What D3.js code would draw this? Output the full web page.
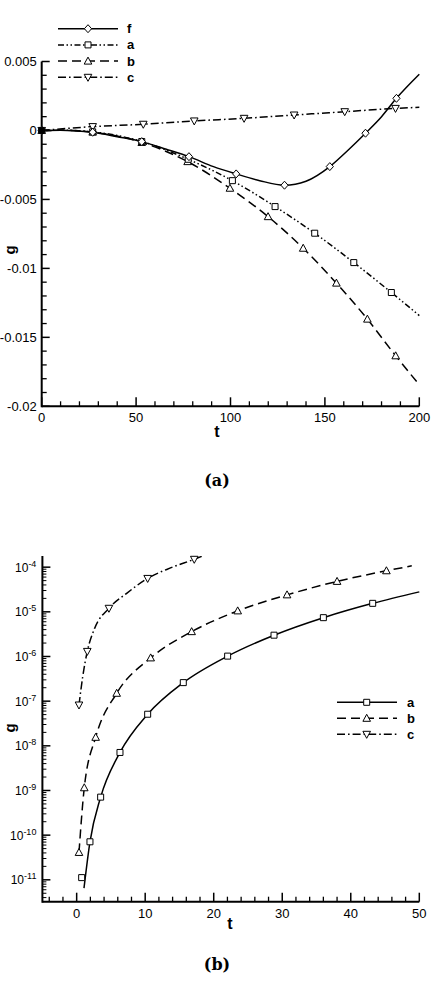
<!DOCTYPE html>
<html>
<head>
  <title>g vs t</title>
  <script src="https://cdn.jsdelivr.net/npm/d3@7/dist/d3.min.js"></script>
  <style>
    body { margin: 0; background: #fff; }
    text { font-family: 'Liberation Sans', Arial, sans-serif; }
  </style>
</head>
<body>
  <svg width="434" height="984" id="mainsvg"></svg>
  <script>
      // ---- data ----
      const fLine = [[0,0],[10,0.00002],[20,-0.00005],[27,-0.00013],[40,-0.00045],[53,-0.00081],[66,-0.00136],[78,-0.0019],[91,-0.00262],[103,-0.00315],[115.5,-0.00364],[128.6,-0.00397],[140,-0.00368],[152.6,-0.00262],[161.4,-0.00154],[171.5,-0.0002],[180,0.001],[187.9,0.00233],[200,0.00407]];
      const fMarks = [[0,0],[27,-0.00013],[53,-0.00081],[78,-0.0019],[103,-0.00315],[128.6,-0.00397],[152.6,-0.00262],[171.5,-0.0002],[187.9,0.00233]];
      const aLine = [[0,0],[13,0.00001],[27,-0.0001],[53,-0.0008],[77.6,-0.00209],[101,-0.00364],[123.6,-0.00552],[144.6,-0.00745],[165.3,-0.00958],[185.2,-0.01175],[200,-0.01342]];
      const aMarks = [[0,0],[27,-0.0001],[53,-0.0008],[77.6,-0.00209],[101,-0.00364],[123.6,-0.00552],[144.6,-0.00745],[165.3,-0.00958],[185.2,-0.01175]];
      const bLine = [[0,0],[13,0.00001],[27,-0.00012],[53,-0.00087],[77.3,-0.00226],[99.7,-0.00419],[119.9,-0.00625],[138.5,-0.00854],[156.1,-0.01107],[172.5,-0.01368],[187.5,-0.01634],[200,-0.01844]];
      const bMarks = [[0,0],[27,-0.00012],[53,-0.00087],[77.3,-0.00226],[99.7,-0.00419],[119.9,-0.00625],[138.5,-0.00854],[156.1,-0.01107],[172.5,-0.01368],[187.5,-0.01634]];
      const cLine = [[0,0],[27,0.00028],[53.8,0.00045],[80.8,0.00069],[107.2,0.00088],[133.7,0.00112],[160.5,0.00136],[187.4,0.0016],[200,0.00168]];
      const cMarks = [[0,0],[27,0.00028],[53.8,0.00045],[80.8,0.00069],[107.2,0.00088],[133.7,0.00112],[160.5,0.00136],[187.4,0.0016]];
      const topYTicks = [0.005, 0, -0.005, -0.01, -0.015, -0.02];
      const topYLabels = ['0.005', '0', '-0.005', '-0.01', '-0.015', '-0.02'];
      const topXTicks = [0, 50, 100, 150, 200];

      // ---- data ----
      const aLineB = [[1.07,6.5e-12],[1.94,7.1e-11],[3.5,7.1e-10],[6.32,7.1e-9],[10.36,5.1e-8],[15.56,2.6e-7],[22.03,1.02e-6],[28.8,3.0e-6],[36,7.4e-6],[43.2,1.55e-5],[50,2.8e-5]];
      const aMarksB = [[0.73,1.12e-11],[1.94,7.1e-11],[3.5,7.1e-10],[6.32,7.1e-9],[10.36,5.1e-8],[15.56,2.6e-7],[22.03,1.02e-6],[28.8,3.0e-6],[36,7.4e-6],[43.2,1.55e-5]];
      const bLineB = [[0.34,4.1e-11],[1.11,1.15e-9],[2.77,1.55e-8],[5.84,1.5e-7],[10.8,9.3e-7],[16.78,3.6e-6],[23.5,1.05e-5],[30.7,2.4e-5],[38,4.8e-5],[45.2,8.3e-5],[48.9,1.07e-4]];
      const bMarksB = [[0.34,4.1e-11],[1.11,1.15e-9],[2.77,1.55e-8],[5.84,1.5e-7],[10.8,9.3e-7],[16.78,3.6e-6],[23.5,1.05e-5],[30.7,2.4e-5],[38,4.8e-5],[45.2,8.3e-5]];
      const cLineB = [[0.34,8.2e-8],[0.88,3.5e-7],[1.55,1.3e-6],[2.6,4.2e-6],[4.71,1.2e-5],[7.3,2.6e-5],[10.36,5.6e-5],[13.6,9.5e-5],[17.16,1.5e-4],[18.4,1.78e-4]];
      const cMarksB = [[0.34,8.2e-8],[1.55,1.3e-6],[4.71,1.2e-5],[10.36,5.6e-5],[17.16,1.5e-4]];
      const botYExp = [-4, -5, -6, -7, -8, -9, -10, -11];
      const botXTicks = [0, 10, 20, 30, 40, 50];

      const svg = d3.select('svg');
      const dashes = {solid: null, dash: '9,5', dashdot: '8,3,1.6,3', dashdotdot: '6,2.5,1.5,2.5,1.5,2.5'};

      const symbol = function(g, type, x, y){
          let p;
          if(type === 'diamond') p = `M${x},${y-4}L${x+3.6},${y}L${x},${y+4}L${x-3.6},${y}Z`;
          else if(type === 'square') p = `M${x-3},${y-3}h6v6h-6Z`;
          else if(type === 'up') p = `M${x},${y-4}L${x+3.8},${y+3}L${x-3.8},${y+3}Z`;
          else p = `M${x},${y+4}L${x+3.8},${y-3}L${x-3.8},${y-3}Z`;
          g.append('path').attr('d', p).attr('fill', 'white').attr('stroke', 'black').attr('stroke-width', 1);
      };

      const drawAxes = function(xScale, yScale, xMajor, xMinor, yAxisTop){
          const g = svg.append('g');
          const x0 = xScale.range()[0], x1 = xScale.range()[1];
          const yb = yScale.range()[0];
          g.append('line').attr('x1', x0).attr('x2', x1).attr('y1', yb).attr('y2', yb)
          .attr('stroke', 'black').attr('stroke-width', 2);
          g.append('line').attr('x1', x0).attr('x2', x0).attr('y1', yb + 1).attr('y2', yAxisTop)
          .attr('stroke', 'black').attr('stroke-width', 2);
          g.selectAll('.xmin').data(xMinor).join('line')
          .attr('x1', d => xScale(d)).attr('x2', d => xScale(d)).attr('y1', yb).attr('y2', yb - 5)
          .attr('stroke', 'black').attr('stroke-width', 1.3);
          g.selectAll('.xmaj').data(xMajor).join('line')
          .attr('x1', d => xScale(d)).attr('x2', d => xScale(d)).attr('y1', yb).attr('y2', yb - 9)
          .attr('stroke', 'black').attr('stroke-width', 1.5);
          g.selectAll('.xlab').data(xMajor).join('text')
          .attr('x', d => xScale(d)).attr('y', yb + 16).attr('text-anchor', 'middle')
          .attr('font-size', 13).text(d => d);
          return g;
      };

      const clipFor = function(id, xScale, yScale){
          svg.append('clipPath').attr('id', id).append('rect')
          .attr('x', xScale.range()[0]).attr('y', yScale.range()[1])
          .attr('width', xScale.range()[1] - xScale.range()[0] + 2)
          .attr('height', yScale.range()[0] - yScale.range()[1]);
      };

      // ================= panel (a) =================
      const xA = d3.scaleLinear().domain([0, 200]).range([41.7, 419.3]);
      const yA = d3.scaleLinear().domain([-0.02, 0.005]).range([406.3, 61.5]);
      const gA = drawAxes(xA, yA, topXTicks, d3.range(10, 200, 10).filter(d => d % 50 !== 0), 61.5);
      const yMinorA = d3.range(-20, 6, 1).map(d => d / 1000).filter(d => Math.round(d * 1000) % 5 !== 0);
      gA.selectAll('.ymin').data(yMinorA).join('line')
      .attr('x1', xA(0)).attr('x2', xA(0) + 5).attr('y1', d => yA(d)).attr('y2', d => yA(d))
      .attr('stroke', 'black').attr('stroke-width', 1.3);
      gA.selectAll('.ymaj').data(topYTicks).join('line')
      .attr('x1', xA(0)).attr('x2', xA(0) + 8).attr('y1', d => yA(d)).attr('y2', d => yA(d))
      .attr('stroke', 'black').attr('stroke-width', 1.5);
      gA.selectAll('.ylab').data(topYTicks).join('text')
      .attr('x', xA(0) - 5).attr('y', d => yA(d) + 4.5).attr('text-anchor', 'end')
      .attr('font-size', 13).text((d, i) => topYLabels[i]);
      gA.append('text').attr('x', 217).attr('y', 437).attr('text-anchor', 'middle')
      .attr('font-size', 16).attr('font-weight', 'bold').text('t');
      gA.append('text').attr('transform', 'translate(15, 250) rotate(-90)').attr('text-anchor', 'middle')
      .attr('font-size', 15).attr('font-weight', 'bold').text('g');

      clipFor('clipA', xA, yA);
      const lineA = d3.line().x(d => xA(d[0])).y(d => yA(d[1])).curve(d3.curveMonotoneX);
      const seriesA = [
          {name: 'f', line: fLine, marks: fMarks, dash: dashes.solid, sym: 'diamond'},
          {name: 'a', line: aLine, marks: aMarks, dash: dashes.dashdotdot, sym: 'square'},
          {name: 'b', line: bLine, marks: bMarks, dash: dashes.dash, sym: 'up'},
          {name: 'c', line: cLine, marks: cMarks, dash: dashes.dashdot, sym: 'down'}
      ];
      const plotA = svg.append('g').attr('clip-path', 'url(#clipA)');
      seriesA.slice().reverse().forEach(s => {
          plotA.append('path').datum(s.line).attr('d', lineA).attr('fill', 'none')
          .attr('stroke', 'black').attr('stroke-width', 1.5).attr('stroke-dasharray', s.dash);
      });
      seriesA.slice().reverse().forEach(s => {
          s.marks.forEach(m => symbol(svg, s.sym, xA(m[0]), yA(m[1])));
      });
      // origin cluster looks filled
      svg.append('circle').attr('cx', xA(0)).attr('cy', yA(0)).attr('r', 3.5).attr('fill', 'black');

      // legend (a)
      const legA = svg.append('g');
      seriesA.forEach((s, i) => {
          const y = 28.7 + i * 16.2;
          legA.append('line').attr('x1', 58).attr('x2', 118).attr('y1', y).attr('y2', y)
          .attr('stroke', 'black').attr('stroke-width', 1.5).attr('stroke-dasharray', s.dash);
          symbol(legA, s.sym, 88, y);
          legA.append('text').attr('x', 127).attr('y', y + 4.5).attr('font-size', 13)
          .attr('font-weight', 'bold').text(s.name);
      });

      svg.append('text').attr('x', 217).attr('y', 486).attr('text-anchor', 'middle')
      .style('font-family', "'DejaVu Serif', serif")
      .attr('font-size', 16).attr('font-weight', 'bold').text('(a)');

      // ================= panel (b) =================
      const xB = d3.scaleLinear().domain([-5, 50]).range([42.4, 419.3]);
      const yB = d3.scaleLog().domain([Math.pow(10, -11.49), Math.pow(10, -3.75)]).range([901.7, 556]);
      const gB = drawAxes(xB, yB, botXTicks, d3.range(-4, 50, 2).filter(d => d % 10 !== 0), 556);
      const yMinorB = [];
      for(let e = -12; e <= -4; e++){
          for(let k = 2; k <= 9; k++){
              const v = k * Math.pow(10, e);
              if(v > yB.domain()[0] && v < yB.domain()[1]) yMinorB.push(v);
          }
      }
      gB.selectAll('.ymin').data(yMinorB).join('line')
      .attr('x1', xB(-5)).attr('x2', xB(-5) + 4).attr('y1', d => yB(d)).attr('y2', d => yB(d))
      .attr('stroke', 'black').attr('stroke-width', 1);
      gB.selectAll('.ymaj').data(botYExp).join('line')
      .attr('x1', xB(-5)).attr('x2', xB(-5) + 8).attr('y1', d => yB(Math.pow(10, d))).attr('y2', d => yB(Math.pow(10, d)))
      .attr('stroke', 'black').attr('stroke-width', 1.5);
      const labB = gB.selectAll('.ylab').data(botYExp).join('text')
      .attr('x', xB(-5) - 6).attr('y', d => yB(Math.pow(10, d)) + 4.5).attr('text-anchor', 'end')
      .attr('font-size', 12);
      labB.append('tspan').text('10');
      labB.append('tspan').attr('dy', -5).attr('font-size', 9).text(d => d);
      gB.append('text').attr('x', 230).attr('y', 929).attr('text-anchor', 'middle')
      .attr('font-size', 16).attr('font-weight', 'bold').text('t');
      gB.append('text').attr('transform', 'translate(15, 728) rotate(-90)').attr('text-anchor', 'middle')
      .attr('font-size', 15).attr('font-weight', 'bold').text('g');

      clipFor('clipB', xB, yB);
      const lineB = d3.line().x(d => xB(d[0])).y(d => yB(d[1])).curve(d3.curveMonotoneX);
      const seriesB = [
          {name: 'a', line: aLineB, marks: aMarksB, dash: dashes.solid, sym: 'square'},
          {name: 'b', line: bLineB, marks: bMarksB, dash: dashes.dash, sym: 'up'},
          {name: 'c', line: cLineB, marks: cMarksB, dash: dashes.dashdot, sym: 'down'}
      ];
      const plotB = svg.append('g').attr('clip-path', 'url(#clipB)');
      seriesB.forEach(s => {
          plotB.append('path').datum(s.line).attr('d', lineB).attr('fill', 'none')
          .attr('stroke', 'black').attr('stroke-width', 1.5).attr('stroke-dasharray', s.dash);
      });
      seriesB.forEach(s => {
          s.marks.forEach(m => symbol(svg, s.sym, xB(m[0]), yB(m[1])));
      });

      // legend (b)
      const legB = svg.append('g');
      seriesB.forEach((s, i) => {
          const y = 702.3 + i * 16;
          legB.append('line').attr('x1', 337).attr('x2', 397).attr('y1', y).attr('y2', y)
          .attr('stroke', 'black').attr('stroke-width', 1.5).attr('stroke-dasharray', s.dash);
          symbol(legB, s.sym, 366.7, y);
          legB.append('text').attr('x', 407).attr('y', y + 4.5).attr('font-size', 13)
          .attr('font-weight', 'bold').text(s.name);
      });

      svg.append('text').attr('x', 217).attr('y', 970).attr('text-anchor', 'middle')
      .style('font-family', "'DejaVu Serif', serif")
      .attr('font-size', 16).attr('font-weight', 'bold').text('(b)');
  </script>
</body>
</html>
